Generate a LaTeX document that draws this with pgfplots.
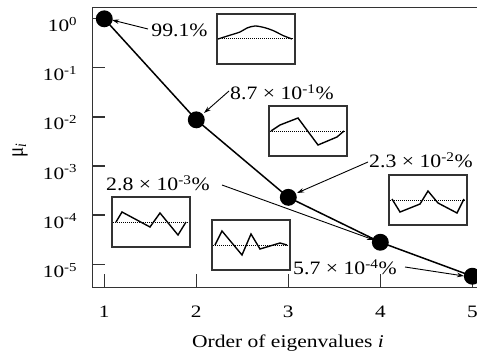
\documentclass[border=0pt]{standalone}
\usepackage{fontspec}
\setmainfont{Liberation Serif}
\usepackage{pgfplots}
\usepackage{pgfplotstable}
\pgfplotsset{compat=1.18}
\usetikzlibrary{arrows.meta}

\pgfplotstableread{
i mu
1 0.991
2 0.0087
3 0.00023
4 0.000028
5 0.0000057
}\eigtable

\pgfplotsset{inset/.style={scale only axis, width=78bp, height=50bp,
  xmin=0, xmax=78, ymin=-25, ymax=25, ticks=none,
  axis line style={black!80, line width=1.2bp}, anchor=north west, clip=false}}

\newcommand{\ann}{\fontsize{19}{22}\selectfont}

\begin{document}
\begin{tikzpicture}
\begin{axis}[
  scale only axis, width=386bp, height=280bp,
  at={(92.5bp,-287.3bp)}, anchor=south west,
  ymode=log, xmin=0.872, xmax=5.067, ymin=3.39e-6, ymax=1.70,
  xtick={1,2,3,4,5}, xticklabels={1,2,3,4,5},
  ytick={1,0.1,0.01,0.001,0.0001,0.00001},
  yticklabels={10\textsuperscript{0},10\textsuperscript{-1},10\textsuperscript{-2},10\textsuperscript{-3},10\textsuperscript{-4},10\textsuperscript{-5}},
  yminorticks=false,
  tick align=inside, major tick length=13bp,
  xtick pos=bottom, ytick pos=left,
  tick style={black!80, line width=1.3bp},
  axis line style={black!80, line width=1.4bp},
  ticklabel style={font=\fontsize{17.5}{20}\selectfont, xscale=1.22},
  xticklabel style={yshift=-15bp},
  yticklabel style={xshift=-9bp, yshift=-6bp},
  clip=false,
]
\addplot[black, line width=1.5bp, mark=*, mark size=7.7bp, mark options={fill=black}] table[x=i, y=mu] {\eigtable};
\end{axis}

% insets
\begin{axis}[inset, at={(217bp,-14bp)}]
\addplot[black, line width=1bp, dash pattern=on 1bp off 1bp] coordinates {(1,0) (76,0)};
\addplot[black, line width=1.3bp, smooth] coordinates {(1,0) (12,3.5) (23,7) (30,11) (38,13) (47,11.5) (56,8.5) (66,3.5) (75,0)};
\end{axis}
\begin{axis}[inset, at={(269bp,-106bp)}]
\addplot[black, line width=1bp, dash pattern=on 1bp off 1bp] coordinates {(1,0) (76,0)};
\addplot[black, line width=1.4bp] coordinates {(2,0) (11,6) (29,13) (49,-14) (68,-6) (75,0)};
\end{axis}
\begin{axis}[inset, at={(389bp,-175bp)}]
\addplot[black, line width=1bp, dash pattern=on 1bp off 1bp] coordinates {(1,0) (76,0)};
\addplot[black, line width=1.4bp] coordinates {(3,1) (11,-12) (31,-4) (39,9) (49,-3) (68,-13) (75,1)};
\end{axis}
\begin{axis}[inset, at={(112bp,-197bp)}]
\addplot[black, line width=1bp, dash pattern=on 1bp off 1bp] coordinates {(1,0) (76,0)};
\addplot[black, line width=1.4bp] coordinates {(4,0) (10,10) (38,-5) (48,9) (66,-13) (74,0)};
\end{axis}
\begin{axis}[inset, at={(212bp,-220bp)}]
\addplot[black, line width=1bp, dash pattern=on 1bp off 1bp] coordinates {(1,0) (76,0)};
\addplot[black, line width=1.4bp] coordinates {(3,0) (10,14) (30,-10) (39,11) (48,-4) (68,2) (75,0)};
\end{axis}

% annotations
\begin{scope}[every node/.style={font=\ann, xscale=1.15, inner sep=0pt}]
\node at (179.5bp,-30bp) {99.1\%};
\node at (282bp,-92bp) {8.7 \texttimes{} 10\textsuperscript{-1}\%};
\node at (421bp,-160bp) {2.3 \texttimes{} 10\textsuperscript{-2}\%};
\node at (158bp,-183bp) {2.8 \texttimes{} 10\textsuperscript{-3}\%};
\node at (345bp,-267bp) {5.7 \texttimes{} 10\textsuperscript{-4}\%};
\end{scope}

\begin{scope}[line width=0.9bp, -{Stealth[length=7bp,width=4.5bp]}]
\draw (148bp,-29bp) -- (112bp,-20bp);
\draw (229bp,-91bp) -- (204bp,-113bp);
\draw (368bp,-162bp) -- (297bp,-193bp);
\draw (222bp,-185bp) -- (374bp,-240bp);
\draw (405bp,-267bp) -- (464bp,-276bp);
\end{scope}

\node[rotate=90, font=\fontsize{19}{20}\selectfont, yscale=1.2] at (20bp,-150bp) {μ\textsubscript{\textit{i}}};
\node[font=\fontsize{18}{20}\selectfont, xscale=1.2] at (288bp,-343bp) {Order of eigenvalues \textit{i}};

\pgfresetboundingbox
\path[use as bounding box] (0bp,0bp) rectangle (477bp,-356bp);
\end{tikzpicture}
\end{document}
